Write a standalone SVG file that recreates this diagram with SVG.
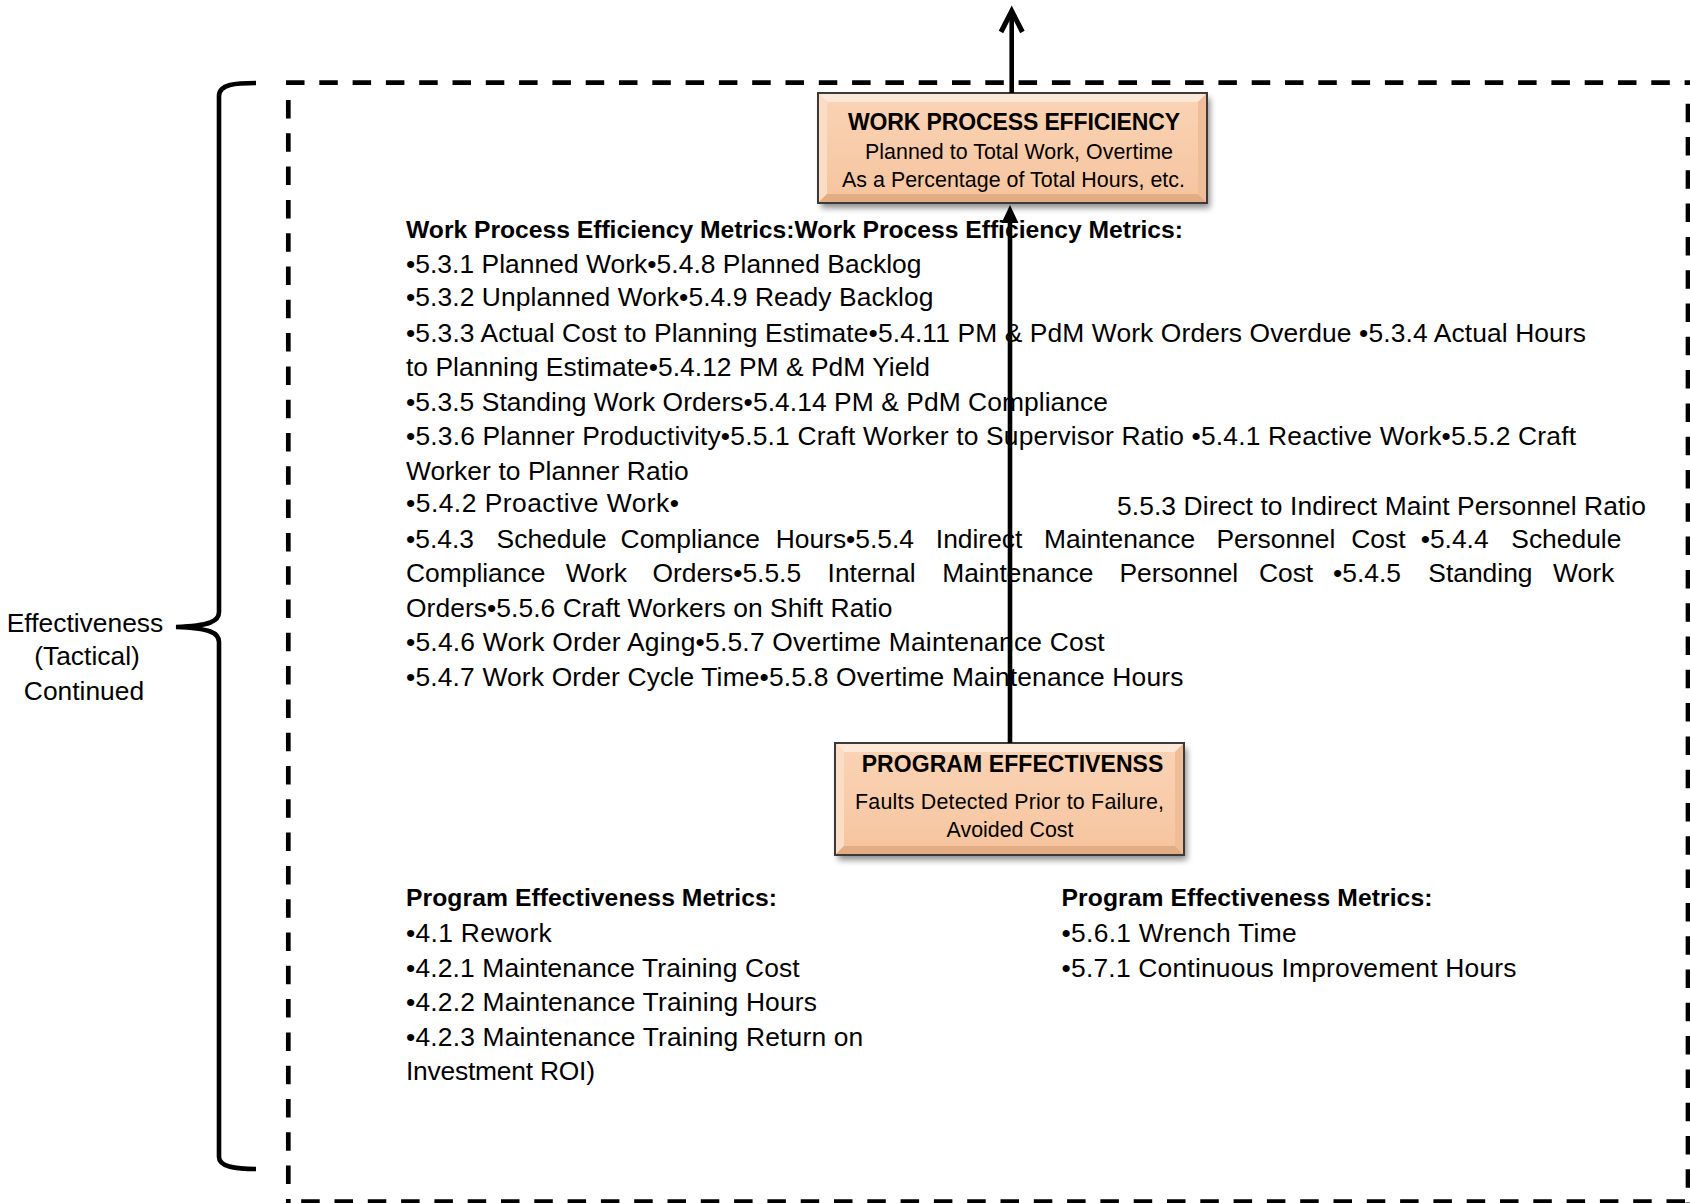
<svg xmlns="http://www.w3.org/2000/svg" width="1690" height="1203" viewBox="0 0 1690 1203">
<defs>
<style>
.t{font-family:"Liberation Sans",Arial,sans-serif;font-size:26.4px;fill:#000}
.b{font-family:"Liberation Sans",Arial,sans-serif;font-size:24.7px;font-weight:bold;fill:#000}
.nt{font-family:"Liberation Sans",Arial,sans-serif;font-size:23px;font-weight:bold;fill:#000}
.ns{font-family:"Liberation Sans",Arial,sans-serif;font-size:21.4px;fill:#000}
.face{fill:url(#peach)}
.bt{fill:#FDE8D8}.bl{fill:#FBDCC5}.br{fill:#EFBD97}.bb{fill:#E4AC83}
.edge{fill:none;stroke:#3a3a3a;stroke-width:2}
.dash{fill:none;stroke:#000;stroke-width:4.7;stroke-dasharray:18.5 14.8}
.conn{fill:none;stroke:#000;stroke-width:4.6}
</style>
<linearGradient id="peach" x1="0" y1="0" x2="0" y2="1">
<stop offset="0" stop-color="#FAD4B6"/>
<stop offset="1" stop-color="#F6C49E"/>
</linearGradient>
<filter id="sh" x="-10%" y="-20%" width="125%" height="150%">
<feGaussianBlur in="SourceAlpha" stdDeviation="3"/>
<feOffset dx="3" dy="5" result="o"/>
<feComponentTransfer><feFuncA type="linear" slope="0.45"/></feComponentTransfer>
<feMerge><feMergeNode/><feMergeNode in="SourceGraphic"/></feMerge>
</filter>
</defs>
<rect width="1690" height="1203" fill="#fff"/>

<g id="frame">
<path class="dash" d="M286,82.7 H1690"/>
<path class="dash" d="M288.3,100 V1203"/>
<path class="dash" d="M1688,103.7 V1203"/>
<path class="dash" d="M301.2,1201.5 H1690"/>
</g>

<g id="brace">
<path d="M256,83 C236,83 219,84 219,96 V612 C219,621 210,626 176,627 C210,628 219,633 219,642 V1157 C219,1167 236,1169 256,1169" fill="none" stroke="#000" stroke-width="4.6"/>
<text class="t" text-anchor="middle"><tspan x="85" y="631.5">Effectiveness</tspan><tspan x="87" y="665">(Tactical)</tspan><tspan x="84" y="699.5">Continued</tspan></text>
</g>

<g id="wpe-metrics">
<text class="b" x="406" y="238" textLength="777" lengthAdjust="spacing">Work Process Efficiency Metrics:Work Process Efficiency Metrics:</text>
<text class="t" x="406" y="272.7" textLength="515.5" lengthAdjust="spacing">•5.3.1 Planned Work•5.4.8 Planned Backlog</text>
<text class="t" x="406" y="306" textLength="527.4" lengthAdjust="spacing">•5.3.2 Unplanned Work•5.4.9 Ready Backlog</text>
<text class="t" x="406" y="341.7" textLength="1180" lengthAdjust="spacing">•5.3.3 Actual Cost to Planning Estimate•5.4.11 PM &amp; PdM Work Orders Overdue •5.3.4 Actual Hours</text>
<text class="t" x="406" y="376" textLength="524" lengthAdjust="spacing">to Planning Estimate•5.4.12 PM &amp; PdM Yield</text>
<text class="t" x="406" y="410.6" textLength="702" lengthAdjust="spacing">•5.3.5 Standing Work Orders•5.4.14 PM &amp; PdM Compliance</text>
<text class="t" x="406" y="445" textLength="1170" lengthAdjust="spacing">•5.3.6 Planner Productivity•5.5.1 Craft Worker to Supervisor Ratio •5.4.1 Reactive Work•5.5.2 Craft</text>
<text class="t" x="406" y="479.6" textLength="282.7" lengthAdjust="spacing">Worker to Planner Ratio</text>
<text class="t" x="406" y="512" textLength="273" lengthAdjust="spacing">•5.4.2 Proactive Work•</text>
<text class="t" x="1117" y="515" textLength="529" lengthAdjust="spacing">5.5.3 Direct to Indirect Maint Personnel Ratio</text>
<text class="t" y="547.5"><tspan x="406">•5.4.3</tspan><tspan x="496.6">Schedule</tspan><tspan x="620.6">Compliance</tspan><tspan x="775.7">Hours•5.5.4</tspan><tspan x="935.8">Indirect</tspan><tspan x="1044">Maintenance</tspan><tspan x="1216.5">Personnel</tspan><tspan x="1351.3">Cost</tspan><tspan x="1420.7">•5.4.4</tspan><tspan x="1511.3">Schedule</tspan></text>
<text class="t" y="582"><tspan x="406">Compliance</tspan><tspan x="565.8">Work</tspan><tspan x="652.5">Orders•5.5.5</tspan><tspan x="827.6">Internal</tspan><tspan x="942.2">Maintenance</tspan><tspan x="1119.4">Personnel</tspan><tspan x="1258.9">Cost</tspan><tspan x="1333">•5.4.5</tspan><tspan x="1428.3">Standing</tspan><tspan x="1553.1">Work</tspan></text>
<text class="t" x="406" y="616.5" textLength="486.4" lengthAdjust="spacing">Orders•5.5.6 Craft Workers on Shift Ratio</text>
<text class="t" x="406" y="651" textLength="698.7" lengthAdjust="spacing">•5.4.6 Work Order Aging•5.5.7 Overtime Maintenance Cost</text>
<text class="t" x="406" y="685.5" textLength="777.4" lengthAdjust="spacing">•5.4.7 Work Order Cycle Time•5.5.8 Overtime Maintenance Hours</text>
</g>

<g id="pe-metrics-left">
<text class="b" x="406" y="906.4" textLength="371" lengthAdjust="spacing">Program Effectiveness Metrics:</text>
<text class="t" x="406" y="942" textLength="145.8" lengthAdjust="spacing">•4.1 Rework</text>
<text class="t" x="406" y="976.5" textLength="393.7" lengthAdjust="spacing">•4.2.1 Maintenance Training Cost</text>
<text class="t" x="406" y="1011" textLength="411" lengthAdjust="spacing">•4.2.2 Maintenance Training Hours</text>
<text class="t" x="406" y="1045.5" textLength="457.3" lengthAdjust="spacing">•4.2.3 Maintenance Training Return on</text>
<text class="t" x="406" y="1080" textLength="189" lengthAdjust="spacing">Investment ROI)</text>
</g>

<g id="pe-metrics-right">
<text class="b" x="1061.6" y="906.4" textLength="370.8" lengthAdjust="spacing">Program Effectiveness Metrics:</text>
<text class="t" x="1061.6" y="942" textLength="235" lengthAdjust="spacing">•5.6.1 Wrench Time</text>
<text class="t" x="1061.6" y="976.5" textLength="454.9" lengthAdjust="spacing">•5.7.1 Continuous Improvement Hours</text>
</g>

<g id="wpe">
<g filter="url(#sh)">
<rect class="face" x="818" y="93" width="389" height="110"/>
</g>
<polygon class="bt" points="818,93 1207,93 1198,102 827,102"/>
<polygon class="bl" points="818,93 827,102 827,194 818,203"/>
<polygon class="br" points="1207,93 1207,203 1198,194 1198,102"/>
<polygon class="bb" points="818,203 827,194 1198,194 1207,203"/>
<rect class="edge" x="818" y="93" width="389" height="110"/>
<text class="nt" x="1014" y="130" text-anchor="middle" textLength="332" lengthAdjust="spacing">WORK PROCESS EFFICIENCY</text>
<text class="ns" x="865" y="159" textLength="308" lengthAdjust="spacing">Planned to Total Work, Overtime</text>
<text class="ns" x="842" y="187" textLength="343" lengthAdjust="spacing">As a Percentage of Total Hours, etc.</text>
</g>

<g id="pe">
<g filter="url(#sh)">
<rect class="face" x="835" y="743" width="349" height="112"/>
</g>
<polygon class="bt" points="835,743 1184,743 1175,752 844,752"/>
<polygon class="bl" points="835,743 844,752 844,846 835,855"/>
<polygon class="br" points="1184,743 1184,855 1175,846 1175,752"/>
<polygon class="bb" points="835,855 844,846 1175,846 1184,855"/>
<rect class="edge" x="835" y="743" width="349" height="112"/>
<text class="nt" x="1012.5" y="772" text-anchor="middle" textLength="301.7" lengthAdjust="spacing">PROGRAM EFFECTIVENSS</text>
<text class="ns" x="1009.5" y="809" text-anchor="middle" textLength="309" lengthAdjust="spacing">Faults Detected Prior to Failure,</text>
<text class="ns" x="1010" y="837" text-anchor="middle">Avoided Cost</text>
</g>

<g id="connectors">
<line class="conn" x1="1010" y1="743" x2="1010" y2="220"/>
<polygon points="1010,205 1018.5,223 1001.5,223" fill="#000"/>
<line class="conn" x1="1011.7" y1="93" x2="1011.7" y2="13" stroke-width="5"/>
<polyline points="1001,32 1011.7,11 1022.4,32" fill="none" stroke="#000" stroke-width="5" stroke-linejoin="miter"/>
</g>
</svg>
